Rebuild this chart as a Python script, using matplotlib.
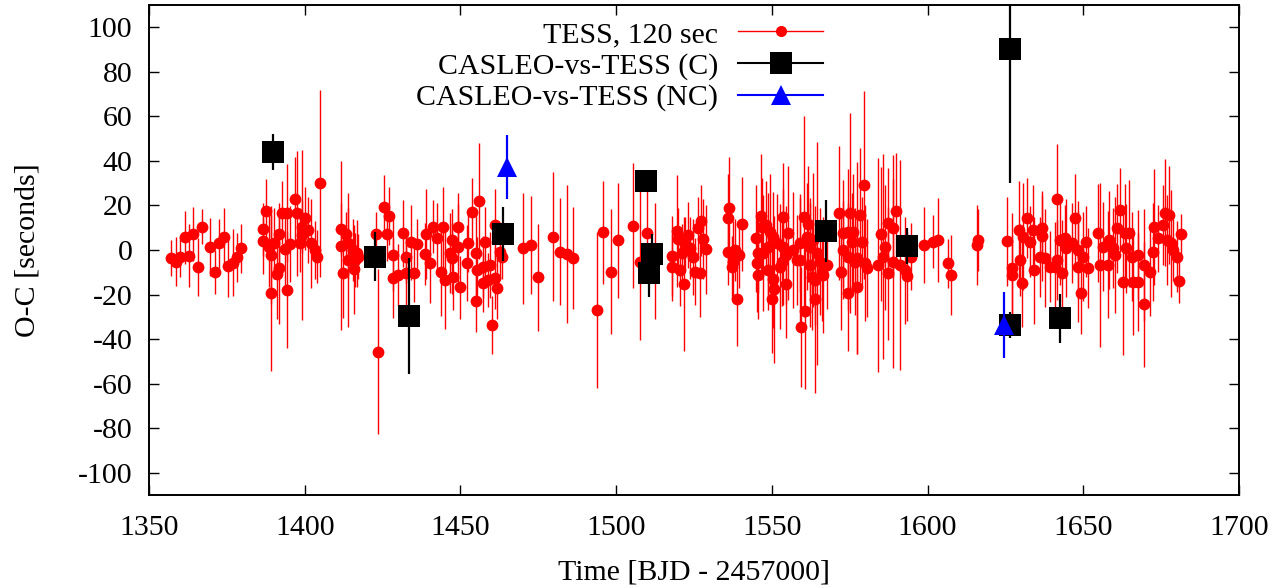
import matplotlib
matplotlib.use('Agg')
import matplotlib.pyplot as plt
from matplotlib.lines import Line2D

# ---------------- data ----------------
tess_t = [
    1357.0, 1358.7, 1359.9, 1361.4, 1362.9, 1364.2, 1365.7, 1367.0, 1369.6, 1371.2,
    1372.6, 1374.0, 1375.5, 1376.9, 1378.3, 1379.7,
    1386.7, 1386.7, 1387.5, 1388.5, 1389.2, 1389.2, 1390.1, 1391.0, 1391.6, 1391.9,
    1392.7, 1393.7, 1394.2, 1394.2, 1395.3, 1396.9, 1397.6, 1398.5, 1399.0, 1399.0,
    1400.1, 1401.2, 1401.9, 1403.3, 1404.0, 1404.9,
    1411.6, 1411.6, 1412.3, 1413.4, 1414.0, 1414.0, 1415.6, 1415.8, 1416.2, 1416.7, 1417.2,
    1422.9, 1423.4, 1425.5, 1426.3, 1427.1, 1428.5, 1428.5, 1430.0, 1431.4, 1432.6,
    1432.6, 1434.0, 1435.1, 1435.9, 1438.6, 1439.1, 1440.2, 1441.3,
    1442.4, 1443.9, 1444.5, 1445.1, 1446.7, 1447.2, 1447.2, 1447.7, 1449.3, 1449.3,
    1449.9, 1452.2, 1452.5, 1453.6, 1454.9, 1455.0, 1455.2, 1456.1, 1457.3, 1457.3,
    1457.9, 1459.0, 1459.5, 1460.1, 1461.1, 1461.1, 1461.6, 1462.8, 1463.3,
    1470.2, 1472.6, 1475.0, 1479.6, 1482.0, 1484.3, 1486.3,
    1493.8, 1495.9, 1498.4, 1500.7, 1505.3, 1507.7, 1510.0, 1512.5,
    1517.8, 1517.8, 1519.4, 1519.9, 1520.6, 1521.1, 1521.8, 1522.1, 1523.2, 1523.7,
    1524.8, 1525.4, 1526.4, 1526.9, 1527.4, 1528.0, 1528.8,
    1536.0, 1536.0, 1536.3, 1537.1, 1537.4, 1538.2, 1538.8, 1539.6, 1540.5,
    1544.9, 1545.1, 1545.6, 1545.6, 1546.4, 1546.7, 1547.3, 1548.2, 1548.9, 1548.9,
    1549.4, 1549.9, 1550.5, 1550.5, 1550.7, 1551.6, 1552.7, 1553.1, 1553.7, 1553.7,
    1554.7, 1554.7, 1555.3, 1556.7, 1558.0, 1559.0, 1559.0, 1559.2, 1560.4, 1560.7,
    1561.2, 1561.7, 1562.3, 1562.3, 1562.8, 1563.3, 1563.8, 1563.8, 1564.5, 1565.5,
    1566.0, 1566.5, 1567.8, 1571.7, 1572.2, 1572.9, 1572.9, 1574.6, 1574.6, 1574.6,
    1575.1, 1575.7, 1576.2, 1576.7, 1577.2, 1577.2, 1578.2, 1578.9, 1579.6, 1579.9, 1580.4,
    1584.2, 1584.9, 1585.8, 1586.3, 1587.4, 1587.4, 1589.0, 1589.0, 1589.9, 1591.2,
    1592.8, 1593.5, 1594.6, 1598.8, 1601.8, 1603.4, 1606.4, 1607.5, 1615.8, 1616.3,
    1625.4, 1627.1, 1627.1, 1629.5, 1629.7, 1630.4, 1630.7, 1631.9, 1632.9, 1634.0,
    1634.2, 1636.2, 1636.7, 1636.7, 1637.7, 1639.3, 1641.0, 1641.5, 1641.5, 1642.6,
    1643.1, 1644.2, 1644.5, 1646.3, 1647.4, 1648.4, 1648.4, 1649.2, 1650.0, 1650.9,
    1651.6, 1654.8, 1655.4, 1656.4, 1657.8, 1658.1, 1659.7, 1660.2, 1660.7, 1661.9,
    1662.7, 1663.4, 1663.8, 1664.8, 1665.6, 1666.1, 1667.5, 1667.5, 1669.5, 1669.5,
    1671.3, 1672.5, 1672.7, 1674.1, 1675.6, 1676.3, 1676.8, 1677.4, 1678.1, 1678.9,
    1680.1, 1680.6, 1681.4,
]
tess_oc = [
    -3.7, -5.2, -3.0, 5.7, -2.5, 7.2, -7.5, 10.5, 1.2, -9.9,
    3.0, 5.7, -7.0, -5.7, -3.3, 0.8,
    9.3, 4.2, 17.7, 1.5, -2.2, -19.2, 3.0, -10.9, 7.2, -8.2,
    16.8, 0.3, 16.5, -18.0, 2.7, 22.8, 16.5, 3.0, 10.5, 6.7,
    14.2, 9.0, 3.0, 0.0, -3.0, 30.0,
    9.3, 2.0, -10.5, 7.2, 3.0, -4.5, 0.0, -8.7, -4.5, -1.5, -3.0,
    7.2, -45.7, 19.5, 7.2, 15.4, -2.2, -12.7, -11.2, 7.5, -3.0,
    -10.5, 3.4, -10.5, 2.7, -1.8, 7.2, -6.0, 10.5,
    5.2, -9.7, 10.5, -13.5, -1.5, 4.5, -3.7, -12.0, 10.5, 1.5,
    -16.8, -5.7, 3.0, 17.2, -1.5, -22.9, -9.0, 22.0, -7.5, -15.0,
    3.4, -13.5, -6.7, -33.7, 11.2, -12.7, -17.2, -0.7, -3.0,
    0.8, 2.2, -12.3, 6.0, -0.7, -1.8, -3.7,
    -26.9, 7.9, -9.7, 4.3, 10.9, -5.2, 7.5, -5.0,
    -2.7, -7.8, 8.5, 4.8, -9.0, -1.5, -15.3, 3.0, 6.7, 0.8,
    -3.3, -9.7, 9.7, -10.2, 13.2, 4.8, 0.3,
    14.2, -0.7, 18.7, -7.5, -5.2, 0.0, -22.2, -2.2, 11.7,
    5.2, -6.0, -1.5, -11.2, 15.3, 10.5, -1.5, 11.2, 1.5, -9.0,
    8.2, -22.2, 6.0, -13.2, -17.6, 3.0, -7.5, -5.2, 15.0, 1.5,
    -2.2, -15.3, 7.5, 0.0, -4.5, 3.0, -4.5, -34.7, 15.0, -27.2,
    6.0, 11.7, 1.5, -6.7, -12.0, 4.5, -13.5, -22.2, -1.5, -5.2,
    -9.7, -11.2, -6.7, 16.5, -9.7, 7.5, 0.0, 8.2, -3.0, -19.5,
    16.5, 3.7, 8.2, -5.2, -3.7, -16.5, 15.7, 3.7, 29.2, -6.0, -8.2,
    -6.7, 7.2, -3.0, 1.2, 12.0, -10.5, 9.7, -5.2, 17.7, -6.7,
    -9.0, -11.7, -3.0, 2.2, 3.7, 4.5, -6.0, -11.4, 2.2, 4.5,
    4.0, -8.2, -11.2, 9.0, -4.5, -14.7, 6.0, 14.2, 3.7, 9.0,
    -9.0, -3.0, 9.7, 6.3, -3.7, -7.5, -7.5, 22.8, -4.5, 4.5,
    -10.5, 5.2, 0.8, 3.0, 14.2, 0.0, -7.5, -19.5, -3.0, 3.7,
    -8.2, 7.5, -6.7, 1.5, -6.7, 4.5, 0.8, -2.2, 9.7, 18.0,
    -14.2, 7.5, 0.8, 7.5, -3.0, -14.2, -2.2, -14.2, -6.7, -24.4,
    -9.7, -0.7, 10.2, 5.2, 11.2, 16.8, 4.5, 15.7, 3.0, 0.0,
    -3.0, -13.8, 7.0,
]
tess_err = [
    8, 11, 9, 12, 14, 12, 13, 8, 13, 10,
    11, 13, 14, 15, 11, 11,
    12, 15, 14, 18, 22, 35, 16, 20, 14, 25,
    14, 18, 22, 26, 17, 19, 28, 13, 12, 38,
    14, 15, 20, 13, 12, 42,
    12, 38, 20, 10, 16, 30, 14, 20, 12, 15, 10,
    10, 37, 14, 12, 13, 16, 18, 14, 15, 12,
    16, 17, 13, 11, 14, 20, 18, 12,
    16, 20, 18, 22, 18, 14, 16, 15, 15, 19,
    14, 17, 13, 15, 20, 14, 15, 26, 14, 13,
    16, 12, 15, 13, 16, 14, 14, 12, 10,
    25, 22, 24, 29, 24, 31, 23,
    35, 23, 28, 26, 28, 35, 20, 26,
    18, 15, 25, 14, 16, 13, 30, 12, 15, 14,
    17, 15, 14, 20, 16, 18, 20,
    20, 15, 23, 14, 18, 14, 21, 15, 21,
    24, 22, 18, 20, 28, 22, 26, 20, 24, 18,
    26, 24, 20, 22, 33, 22, 28, 20, 24, 26,
    22, 24, 30, 26, 20, 22, 28, 27, 45, 35,
    24, 26, 22, 28, 24, 30, 20, 42, 50, 24,
    22, 26, 20, 30, 26, 24, 22, 28, 24, 26,
    45, 22, 26, 24, 43, 30, 30, 20, 42, 26, 22,
    48, 30, 46, 28, 25, 30, 22, 48, 26, 47,
    24, 20, 15, 17, 12, 19, 11, 18, 18, 14,
    20, 25, 18, 22, 16, 20, 24, 18, 16, 20,
    24, 18, 15, 20, 22, 16, 20, 25, 18, 20,
    24, 15, 22, 18, 20, 22, 25, 18, 20, 16,
    18, 22, 37, 20, 24, 22, 18, 26, 20, 19,
    33, 22, 20, 24, 20, 24, 20, 22, 25, 28,
    20, 22, 26, 15, 18, 24, 20, 22, 24, 14,
    16, 10, 9,
]

c_t = [1389.8, 1422.5, 1433.5, 1463.7, 1509.6, 1511.6, 1510.6, 1567.4, 1593.4, 1626.5, 1626.5, 1642.6]
c_oc = [44.0, -3.1, -29.6, 7.2, 31.0, -1.8, -10.3, 8.5, 1.8, 90.3, -33.7, -30.6]
c_err = [8, 11, 26, 12, 4, 9, 11, 14, 8, 60, 6, 11]

nc_t = [1465.0, 1624.6]
nc_oc = [37.3, -33.7]
nc_err = [14.5, 15]

labels = ['TESS, 120 sec', 'CASLEO-vs-TESS (C)', 'CASLEO-vs-TESS (NC)']
x_ticks = [1350, 1400, 1450, 1500, 1550, 1600, 1650, 1700]
y_ticks = [-100, -80, -60, -40, -20, 0, 20, 40, 60, 80, 100]

# ---------------- plot ----------------
plt.rcParams['font.family'] = ['Liberation Serif', 'DejaVu Serif']
FS = 21.5

W, H = 1284, 588
fig = plt.figure(figsize=(W / 100, H / 100), dpi=100)
L, R, T, B = 149, 1239, 5, 495
ax = fig.add_axes([L / W, 1 - B / H, (R - L) / W, (B - T) / H])

ax.errorbar(tess_t, tess_oc, yerr=tess_err, fmt='o', color='red', ms=8.5,
            mew=0, elinewidth=1.0, capsize=0, zorder=2)
ax.errorbar(c_t, c_oc, yerr=c_err, fmt='s', color='black', ms=16.5,
            mew=0, elinewidth=1.6, capsize=0, zorder=3)
ax.errorbar(nc_t, nc_oc, yerr=nc_err, fmt='^', color='blue', ms=15,
            mew=0, elinewidth=1.6, capsize=0, zorder=4)

ax.set_xlim(1350, 1700)
ax.set_ylim(-110, 110)
ax.set_xticks(x_ticks)
ax.set_yticks(y_ticks)
ax.set_xticklabels([str(v) for v in x_ticks])
ax.set_yticklabels([str(v) for v in y_ticks])
ax.tick_params(direction='in', top=True, right=True, length=7.2, width=1.0,
               labelsize=FS, color='black')
ax.tick_params(axis='y', pad=12)
ax.tick_params(axis='x', pad=14.5)
for s in ax.spines.values():
    s.set_linewidth(1.4)

ax.set_xlabel('Time [BJD - 2457000]', fontsize=FS)
ax.set_ylabel('O-C [seconds]', fontsize=FS)
ax.xaxis.label.set_va('center')
ax.yaxis.label.set_va('center')
ax.xaxis.set_label_coords(0.5, (B - 572) / (B - T))
ax.yaxis.set_label_coords((28 - L) / (R - L), (B - 250) / (B - T))

handles = [
    Line2D([], [], color='red', lw=1.0, marker='o', ms=8, mew=0),
    Line2D([], [], color='black', lw=1.5, marker='s', ms=16, mew=0),
    Line2D([], [], color='blue', lw=1.5, marker='^', ms=15, mew=0),
]
ax.legend(handles, labels, loc='upper right',
          bbox_to_anchor=((823 - L) / (R - L), (B - 21) / (B - T)),
          markerfirst=False, frameon=False, fontsize=FS, handlelength=2.84,
          handletextpad=0.67, labelspacing=0.15, borderpad=0, borderaxespad=0)

fig.savefig('out.png', dpi=100)
